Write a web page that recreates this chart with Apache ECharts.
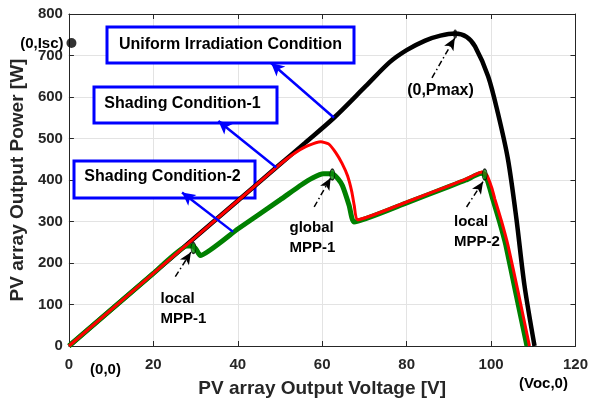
<!DOCTYPE html>
<html>
<head>
<meta charset="utf-8">
<script src="https://cdn.jsdelivr.net/npm/echarts@6/dist/echarts.min.js"></script>
<style>
html,body{margin:0;padding:0;background:#fff;}
#c{width:591px;height:403px;}
</style>
</head>
<body>
<div id="c"></div>
<script>
// ---- data (V, P) ----
const xTicks = [0, 20, 40, 60, 80, 100, 120];
const yTicks = [0, 100, 200, 300, 400, 500, 600, 700, 800];

const uniformCurve = [
  [0,0],[20,175],[40,350],[49.1,430],[56,490],[62.8,550],
  [70.3,626],[76,684],[80,713],[84.4,736],[88,748],[91.5,753],[94.2,745],[96.2,722],
  [99.3,650],[101.6,562],[104,450],[106,307],[107.9,147],[110.3,0]
];
const shading1Curve = [
  [0,0],[20,175],[40,350],[49.1,430],[51.5,450],[54,468],
  [56.5,482],[59.7,492],[61.5,487],[63.2,466],[64.7,440],[66,410],[67,372],
  [67.6,338],[68.3,304],[80,347],[90,386],[94,402],
  [96.5,414],[97.8,419],[99,412],[100.2,380],[100.9,354],[102.5,300],
  [104,243],[106.4,131],[109.1,0]
];
const shading2Curve = [
  [0,0],[20,175],[28,241],[29.4,241],[30.2,232],[31.1,218],
  [40,282],[50,352],[55,388],[57.7,405],[60.3,415],[62.4,415],
  [63.8,402],[64.8,386],[66.4,338],[67.5,299],[80,345],
  [90,384],[94,400],[96.5,412],[97.8,416],[98.7,411],[99.7,380],[100.4,354],
  [102,300],[103.5,243],[105.8,131],[108.5,0]
];
const mppPoints = [[29.5,236],[62.4,413],[98.5,413]];
const pmaxPoint = [[91.5,752]];
const iscPoint = [[0.6,730]];

// annotation arrows in data coordinates: [from, to]
const blueArrows = [
  [[62.8,550],[47.9,682]],
  [[49.1,430],[35.4,542]],
  [[38.9,275],[26.8,370]]
];
const dashArrows = [
  [[86,646],[91.4,742]],
  [[58.1,335],[62.0,405]],
  [[25.2,167],[28.9,226]],
  [[94.2,335],[98.1,396]]
];

const FONT = '"Liberation Sans", Arial, sans-serif';
const AX = '#262626';

const chart = echarts.init(document.getElementById('c'), null, {renderer:'canvas'});

function txt(text, x, y, size, align) {
  return {type:'text', x:x, y:y, z:5,
    style:{text:text, fontFamily:FONT, fontWeight:'bold', fontSize:size,
      fill:'#000', align:align||'left', verticalAlign:'middle'}};
}
function box(x, y, w, h) {
  return {type:'rect', z:1, shape:{x:x,y:y,width:w,height:h},
    style:{fill:'#fff', stroke:'#0000ff', lineWidth:3}};
}

const markLines = [];
blueArrows.forEach(a => markLines.push([
  {coord:a[0], lineStyle:{color:'#0000ff', width:2.5, type:'solid'}, symbol:'none'},
  {coord:a[1], symbol:'arrow', symbolSize:[10,13]}
]));
dashArrows.forEach(a => markLines.push([
  {coord:a[0], lineStyle:{color:'#000', width:1.5, type:[6,3,1.5,3]}, symbol:'none'},
  {coord:a[1], symbol:'arrow', symbolSize:[8,12]}
]));

const option = {
  animation:false,
  backgroundColor:'#fff',
  grid:{left:68, right:13, top:14, bottom:55, containLabel:false},
  xAxis:[{
    type:'value', min:0, max:120, interval:20,
    name:'PV array Output Voltage [V]', nameLocation:'middle', nameGap:33,
    nameTextStyle:{fontFamily:FONT, fontWeight:'bold', fontSize:19, color:AX},
    axisLine:{show:true, onZero:false, lineStyle:{color:AX, width:1}},
    axisTick:{show:true, inside:true, length:5, lineStyle:{color:AX}},
    axisLabel:{fontFamily:FONT, fontWeight:'bold', fontSize:15, color:AX, margin:11,
      formatter:v => xTicks.includes(v) ? String(v) : ''},
    splitLine:{show:true, lineStyle:{color:'#e3e3e3', width:1}}
  },{
    type:'value', min:0, max:120, interval:20, position:'top',
    axisLine:{show:true, onZero:false, lineStyle:{color:AX, width:1}},
    axisTick:{show:true, inside:true, length:5, lineStyle:{color:AX}},
    axisLabel:{show:false}, splitLine:{show:false}
  }],
  yAxis:[{
    type:'value', min:0, max:800, interval:100,
    name:'PV array Output Power [W]', nameLocation:'middle', nameGap:37,
    nameTextStyle:{fontFamily:FONT, fontWeight:'bold', fontSize:19, color:AX},
    axisLine:{show:true, onZero:false, lineStyle:{color:AX, width:1}},
    axisTick:{show:true, inside:true, length:5, lineStyle:{color:AX}},
    axisLabel:{fontFamily:FONT, fontWeight:'bold', fontSize:15, color:AX, margin:6,
      formatter:v => yTicks.includes(v) ? String(v) : ''},
    splitLine:{show:true, lineStyle:{color:'#e3e3e3', width:1}}
  },{
    type:'value', min:0, max:800, interval:100, position:'right',
    axisLine:{show:true, onZero:false, lineStyle:{color:AX, width:1}},
    axisTick:{show:true, inside:true, length:5, lineStyle:{color:AX}},
    axisLabel:{show:false}, splitLine:{show:false}
  }],
  series:[
    {type:'line', data:uniformCurve, showSymbol:false, smooth:0.3,
      lineStyle:{color:'#000', width:4.5}, z:2},
    {type:'line', data:shading2Curve, showSymbol:false, smooth:0.15,
      lineStyle:{color:'#008000', width:5}, z:3},
    {type:'line', data:shading1Curve, showSymbol:false, smooth:0.15,
      lineStyle:{color:'#ff0000', width:3}, z:4},
    {type:'scatter', data:mppPoints, symbol:'circle', symbolSize:[5,11],
      itemStyle:{color:'#0a8a0a', borderColor:'#000', borderWidth:1}, z:6,
      markLine:{silent:true, animation:false, label:{show:false},
        symbol:['none','arrow'], data:markLines}},
    {type:'scatter', data:pmaxPoint, symbol:'circle', symbolSize:[4,9],
      itemStyle:{color:'#000'}, z:6},
    {type:'scatter', data:iscPoint, symbol:'circle', symbolSize:10, clip:false,
      itemStyle:{color:'#000'}, z:6}
  ],
  graphic:[
    box(107,27,247,36),
    box(94,87,183,36),
    box(74,161,181,37),
    txt('Uniform Irradiation Condition', 230.5, 44.5, 16, 'center'),
    txt('Shading Condition-1', 182.5, 104, 16, 'center'),
    txt('Shading Condition-2', 162.5, 177, 16, 'center'),
    txt('(0,Isc)', 63.5, 43.5, 15, 'right'),
    txt('(0,Pmax)', 440.5, 90.5, 16, 'center'),
    txt('global', 289.5, 228, 15, 'left'),
    txt('MPP-1', 289.5, 248, 15, 'left'),
    txt('local', 160.5, 299, 15, 'left'),
    txt('MPP-1', 160.5, 318.5, 15, 'left'),
    txt('local', 454, 222, 15, 'left'),
    txt('MPP-2', 454, 242, 15, 'left'),
    txt('(0,0)', 105.5, 370, 15, 'center'),
    txt('(Voc,0)', 543.5, 384, 15, 'center')
  ]
};
chart.setOption(option);
</script>
</body>
</html>
